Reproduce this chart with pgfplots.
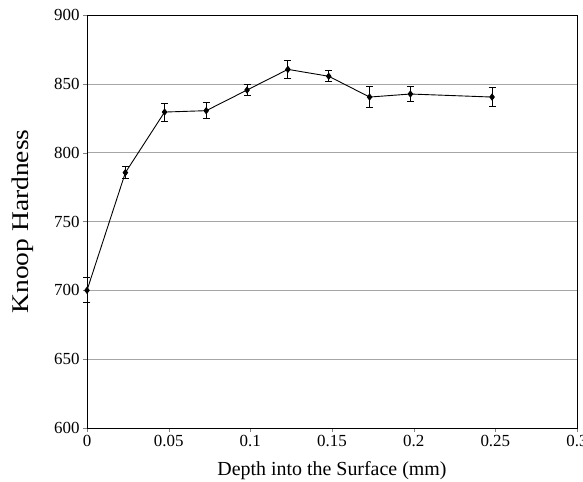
\documentclass[border=0pt]{standalone}
\usepackage{pgfplots}
\pgfplotsset{compat=1.18}
\usepackage{graphicx}
\usepackage{fontspec}
\setmainfont{Liberation Serif}
\begin{document}
\begin{tikzpicture}[x=1bp,y=1bp]
\begin{axis}[
	scale only axis,
	width=490bp,
	height=413bp,
	xmin=0, xmax=0.3,
	ymin=600, ymax=900,
	xtick={0,0.05,...,0.3},
	ytick={600,650,...,900},
	xticklabels={0,0.05,0.1,0.15,0.2,0.25,0.3},
	/pgf/number format/assume math mode=true,
	tick label style={font=\fontsize{17}{17}\selectfont},
	ymajorgrids,
	major grid style={gray!70, line width=0.6pt},
	tick align=outside,
	tick pos=left,
	major tick length=4bp,
	axis line style={line width=0.8pt},
	clip=false,
	xlabel={Depth into the Surface (mm)},
	ylabel={\scalebox{1.15}[1]{Knoop Hardness}},
	xlabel style={font=\fontsize{20}{20}\selectfont, yshift=-8bp},
	ylabel style={font=\fontsize{24}{24}\selectfont},
	ylabel shift=14bp,
]
\addplot+[black, line width=0.9pt, mark=diamond*, mark size=3bp,
	mark options={fill=black},
	error bars/.cd, y dir=both, y explicit,
	error bar style={line width=0.9pt},
	error mark options={rotate=90, mark size=3.5bp, line width=0.9pt}]
	coordinates {
	(0,      700)   +- (0, 9)
	(0.0235, 785.5) +- (0, 4.2)
	(0.0475, 829.5) +- (0, 6.5)
	(0.073,  830.5) +- (0, 5.8)
	(0.098,  845.5) +- (0, 4)
	(0.123,  860.5) +- (0, 6.3)
	(0.148,  855.5) +- (0, 4)
	(0.173,  840.4) +- (0, 7.9)
	(0.198,  842.6) +- (0, 5.2)
	(0.248,  840.4) +- (0, 7)
};
\end{axis}
\pgfresetboundingbox
\path (-87bp,-54bp) rectangle (496bp,428bp);
\end{tikzpicture}
\end{document}
